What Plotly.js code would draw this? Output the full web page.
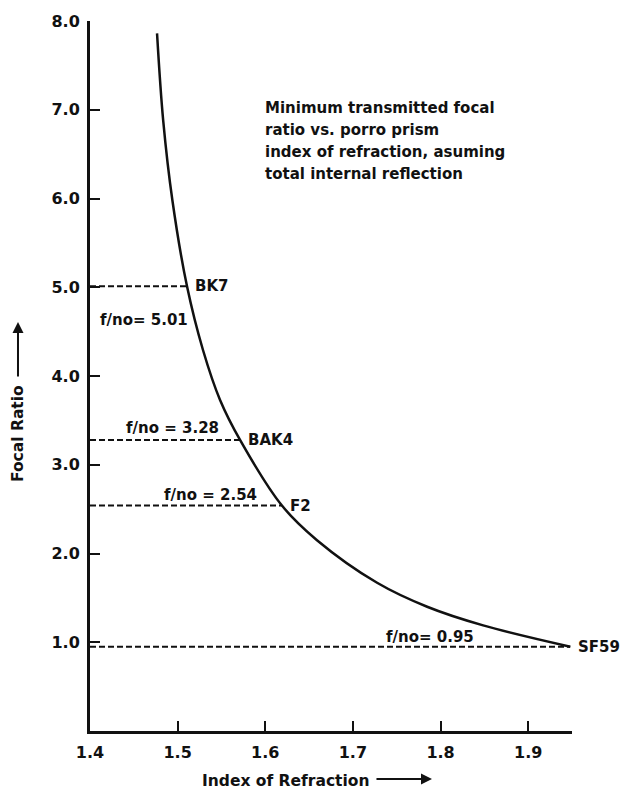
<!DOCTYPE html>
<html>
<head>
<meta charset="utf-8">
<script src="https://cdn.plot.ly/plotly-3.0.1.min.js"></script>
<style>html,body{margin:0;padding:0;background:#fff;}#chart{width:624px;height:791px;}</style>
</head>
<body>
<div id="chart"></div>
<script>
// Curve: minimum transmitted focal ratio vs index of refraction
const curveIndex = [1.4765, 1.4835, 1.4940, 1.5107, 1.529, 1.5484, 1.5712, 1.619, 1.659, 1.7276, 1.7847, 1.8486, 1.948];
const curveFocal = [7.86, 6.88, 5.98, 5.01, 4.29, 3.73, 3.28, 2.54, 2.15, 1.67, 1.40, 1.19, 0.95];

// Glasses
const glassNames = ['BK7', 'BAK4', 'F2', 'SF59'];
const glassIndex = [1.5107, 1.5712, 1.619, 1.948];
const glassFocal = [5.01, 3.28, 2.54, 0.95];
const fnoLabels = ['f/no= 5.01', 'f/no = 3.28', 'f/no = 2.54', 'f/no= 0.95'];

// Axis ticks
const xTickVals = [1.4, 1.5, 1.6, 1.7, 1.8, 1.9];
const xTickText = ['1.4', '1.5', '1.6', '1.7', '1.8', '1.9'];
const yTickVals = [1, 2, 3, 4, 5, 6, 7, 8];
const yTickText = ['1.0', '2.0', '3.0', '4.0', '5.0', '6.0', '7.0', '8.0'];

const noteLines = ['Minimum transmitted focal', 'ratio vs. porro prism', 'index of refraction, asuming', 'total internal reflection'];

const INK = '#111';
const FONT = 'DejaVu Sans';

const traces = [];
glassNames.forEach((g, i) => {
  traces.push({
    x: [1.4, glassIndex[i]], y: [glassFocal[i], glassFocal[i]],
    mode: 'lines', line: {color: INK, width: 2, dash: '6px,3px'},
    hoverinfo: 'skip', showlegend: false
  });
});
traces.push({
  x: curveIndex, y: curveFocal, mode: 'lines',
  line: {color: INK, width: 2.5, shape: 'spline', smoothing: 1},
  showlegend: false
});

const lblFont = {family: FONT, size: 15, color: INK, weight: 'bold'};
const annotations = [];
glassNames.forEach((g, i) => {
  annotations.push({x: glassIndex[i], y: glassFocal[i], xref: 'x', yref: 'y', text: g,
    showarrow: false, xanchor: 'left', yanchor: 'middle', xshift: 6, font: lblFont});
});
const fnoX = [1.4611, 1.4936, 1.537, 1.788];
const fnoShift = [-34, 12, 11, 10];
fnoLabels.forEach((t, i) => {
  annotations.push({x: fnoX[i], y: glassFocal[i], xref: 'x', yref: 'y', text: t,
    showarrow: false, xanchor: 'center', yanchor: 'middle', yshift: fnoShift[i], font: lblFont});
});
const noteY = [7.02, 6.772, 6.524, 6.276];
noteLines.forEach((t, i) => {
  annotations.push({x: 1.5975, y: noteY[i], xref: 'x', yref: 'y', text: t,
    showarrow: false, xanchor: 'left', yanchor: 'middle', font: lblFont});
});
// Axis titles with arrows
const titleFont = {family: FONT, size: 15.5, color: INK, weight: 'bold'};
annotations.push({x: 0.4046, y: -0.0704, xref: 'paper', yref: 'paper', text: 'Index of Refraction',
  showarrow: false, xanchor: 'center', yanchor: 'middle', font: titleFont});
annotations.push({x: 0.7095, y: -0.0676, xref: 'paper', yref: 'paper', text: '',
  showarrow: true, arrowhead: 2, arrowsize: 1.1, arrowwidth: 2, arrowcolor: INK, ax: -57, ay: 0});
annotations.push({x: -0.1494, y: 0.4197, xref: 'paper', yref: 'paper', text: 'Focal Ratio',
  showarrow: false, xanchor: 'center', yanchor: 'middle', textangle: -90, font: titleFont});
annotations.push({x: -0.1494, y: 0.576, xref: 'paper', yref: 'paper', text: '',
  showarrow: true, arrowhead: 2, arrowsize: 1.1, arrowwidth: 2, arrowcolor: INK, ax: 0, ay: 56});

const tickFont = {family: FONT, size: 16, color: INK, weight: 'bold'};
const layout = {
  width: 624, height: 791,
  margin: {l: 90, r: 52, t: 21, b: 60},
  paper_bgcolor: '#fff', plot_bgcolor: '#fff',
  showlegend: false,
  xaxis: {
    range: [1.4, 1.95], tickvals: xTickVals, ticktext: xTickText,
    ticks: 'inside', ticklen: 10, tickwidth: 2, tickcolor: INK,
    showline: true, linewidth: 3, linecolor: INK, showgrid: false, zeroline: false,
    tickfont: tickFont, ticklabelstandoff: 5
  },
  yaxis: {
    range: [0, 8], tickvals: yTickVals, ticktext: yTickText,
    ticks: 'inside', ticklen: 10, tickwidth: 2, tickcolor: INK,
    showline: true, linewidth: 3, linecolor: INK, showgrid: false, zeroline: false,
    tickfont: tickFont, ticklabelstandoff: 4
  },
  annotations: annotations
};
Plotly.newPlot('chart', traces, layout, {displayModeBar: false, staticPlot: true});
</script>
</body>
</html>
